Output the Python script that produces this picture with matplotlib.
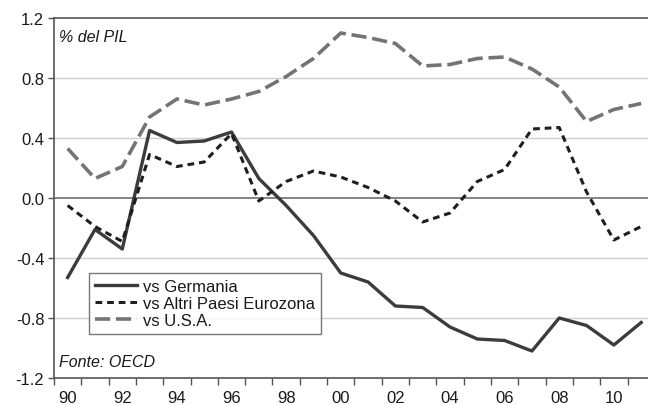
import matplotlib
matplotlib.use("Agg")
import matplotlib.pyplot as plt
from matplotlib.ticker import FixedLocator, FixedFormatter
import numpy as np

plt.rcParams['font.family'] = ['Liberation Sans', 'DejaVu Sans']

years = list(range(1990, 2012))
germania = [-0.53, -0.21, -0.34, 0.45, 0.37, 0.38, 0.44, 0.13, -0.05, -0.25,
            -0.50, -0.56, -0.72, -0.73, -0.86, -0.94, -0.95, -1.02, -0.80, -0.85,
            -0.98, -0.83]
altri = [-0.05, -0.19, -0.29, 0.29, 0.21, 0.24, 0.43, -0.02, 0.11, 0.18,
         0.14, 0.07, -0.02, -0.16, -0.10, 0.11, 0.19, 0.46, 0.47, 0.04,
         -0.28, -0.19]
usa = [0.33, 0.13, 0.21, 0.54, 0.66, 0.62, 0.66, 0.71, 0.81, 0.93,
       1.10, 1.07, 1.03, 0.88, 0.89, 0.93, 0.94, 0.86, 0.74, 0.51,
       0.59, 0.63]
ytick_vals = [-1.2, -0.8, -0.4, 0.0, 0.4, 0.8, 1.2]
xtick_years = list(range(1990, 2012, 2))
xtick_labels = ['90', '92', '94', '96', '98', '00', '02', '04', '06', '08', '10']

fig = plt.figure(figsize=(6.48, 4.06), dpi=100)
ax = fig.add_axes([54/648, 1-379/406, 1-54/648, (379-19)/406])

for v in ytick_vals:
    if v in (-1.2, 1.2):
        continue
    if v == 0.0:
        ax.axhline(v, color='#7a7a7a', lw=1.3, zorder=1)
    else:
        ax.axhline(v, color='#cfcfcf', lw=1.0, zorder=1)

ax.plot(years, germania, color='#3c3c3c', lw=2.4, label='vs Germania', zorder=3)
ax.plot(years, altri, color='#1e1e1e', lw=2.2, ls=(0, (2.2, 1.6)), label='vs Altri Paesi Eurozona', zorder=3)
ax.plot(years, usa, color='#747474', lw=2.6, ls=(0, (4.2, 1.6)), label='vs U.S.A.', zorder=3)

ax.set_xlim(1989.5, 2011.25)
ax.set_ylim(-1.2, 1.2)

ax.xaxis.set_major_locator(FixedLocator(xtick_years))
ax.xaxis.set_major_formatter(FixedFormatter(xtick_labels))
ax.xaxis.set_minor_locator(FixedLocator([y + 0.5 for y in range(1989, 2012)]))
ax.tick_params(axis='x', which='major', length=0, labelsize=12, pad=9, colors='#1a1a1a')
ax.tick_params(axis='x', which='minor', length=5, width=1, color='#555555', direction='out')

ax.set_yticks(ytick_vals)
ax.set_yticklabels(['%.1f' % v for v in ytick_vals])
ax.tick_params(axis='y', length=4, width=1, color='#555555', labelsize=12, pad=3, labelcolor='#1a1a1a')

for s in ['left', 'bottom', 'top']:
    ax.spines[s].set_color('#555555')
    ax.spines[s].set_linewidth(1.2)
ax.spines['right'].set_visible(False)

ax.text(0.008, 0.95, '% del PIL', transform=ax.transAxes, fontsize=11.5, style='italic',
        va='center', ha='left', color='#1a1a1a')
ax.text(0.008, 0.047, 'Fonte: OECD', transform=ax.transAxes, fontsize=11.5, style='italic',
        va='center', ha='left', color='#1a1a1a')

leg = ax.legend(loc='lower left', bbox_to_anchor=(0.059, 0.122), fontsize=12,
                frameon=True, fancybox=False, handlelength=2.5, handletextpad=0.4,
                labelspacing=0.12, borderpad=0.35, borderaxespad=0)
leg.get_frame().set_edgecolor('#555555')
leg.get_frame().set_linewidth(1.0)
for t in leg.get_texts():
    t.set_color('#1a1a1a')

fig.savefig('out.png', dpi=100)
